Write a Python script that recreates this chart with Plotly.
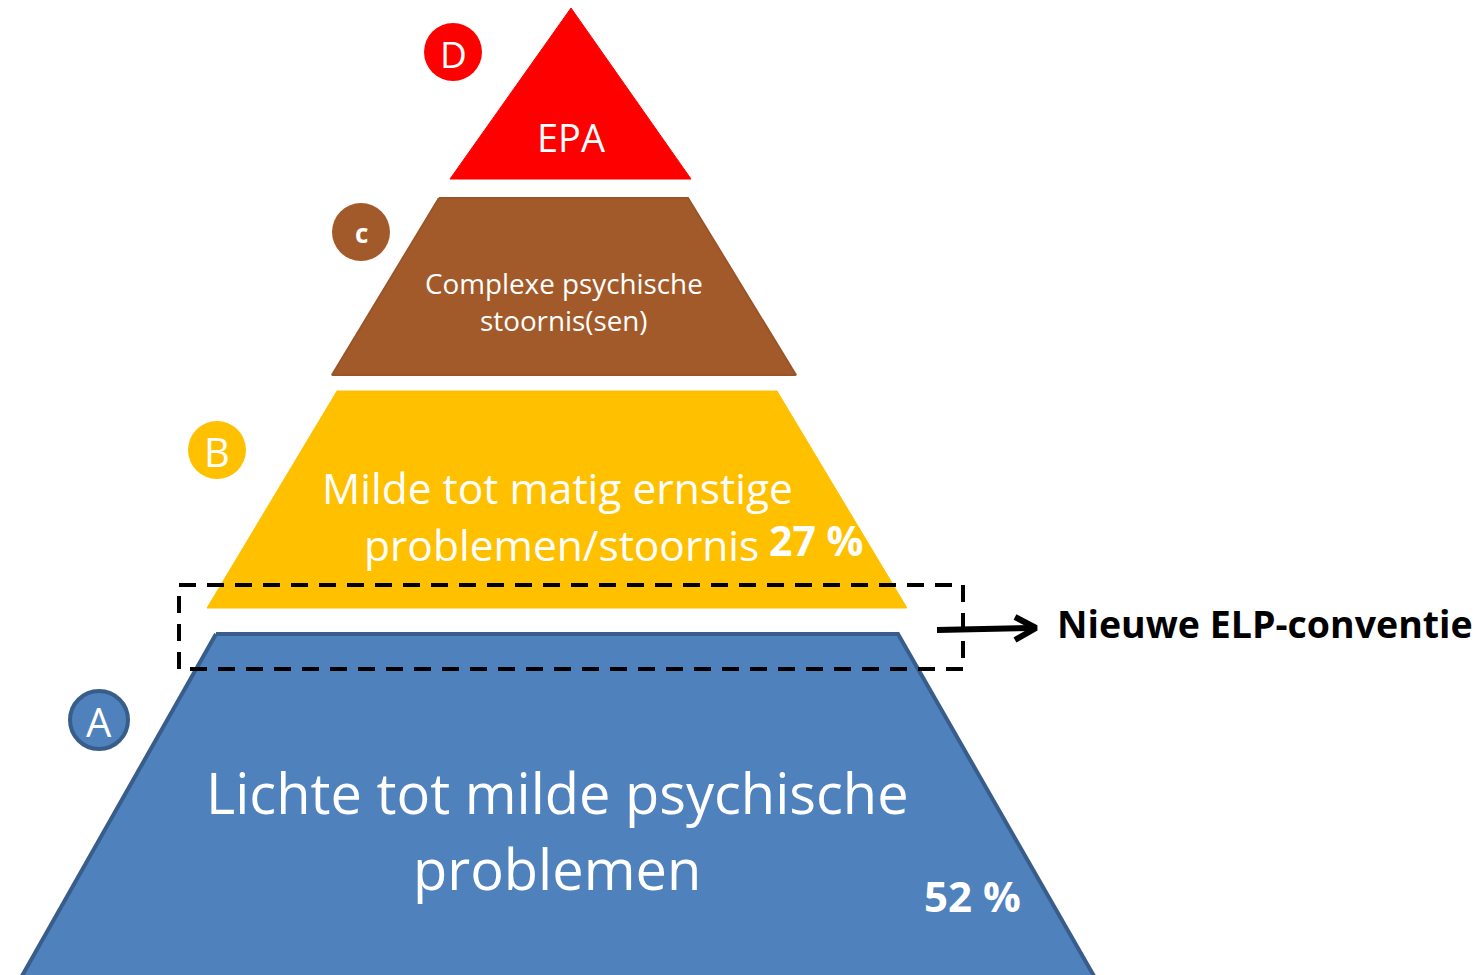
import plotly.graph_objects as go

# ---- data ----
tier_codes = ["A", "B", "c", "D"]
tier_lines = [
    ["Lichte tot milde psychische", "problemen"],
    ["Milde tot matig ernstige", "problemen/stoornis"],
    ["Complexe psychische", "stoornis(sen)"],
    ["EPA"],
]
tier_shares = ["52 %", "27 %", "", ""]
callout_text = "Nieuwe ELP-conventie"

# ---- layout geometry (pixel canvas) ----
W, H = 1483, 975
OFF = 8  # default page body margin in the browser
# trapezoid: (top_y, top_left, top_right, bottom_y, bottom_left, bottom_right)
tier_geom = [
    (634, 216, 898, 990, 14, 1102),
    (391, 337, 777, 608, 207, 907),
    (198, 439, 688, 375, 332, 796),
    (8, 571, 571, 179, 450, 691),
]
tier_fill = ["#4F81BD", "#FFC000", "#A35A2A", "#FF0000"]
tier_edge = ["#385D8A", "#FFC000", "#9A5428", "#FF0000"]
tier_edge_w = [4, 1, 2, 1]
badge_xy = [(99, 720), (217, 450), (361, 232), (453, 52)]
badge_r = 29
badge_font = [40, 40, 26, 37]
badge_bold = [False, False, True, False]
text_xy = [
    [(557, 792), (557, 868)],
    [(557, 487), (557, 544)],
    [(564, 283), (564, 320)],
    [(571, 137)],
]
text_size = [56, 42.5, 27.8, 38]
text_x_anchor = [["center", "center"], ["center", "left"], ["center", "center"], ["center"]]
text_x_override = {(1, 1): 362}
share_xy = [(972, 895), (816, 540)]
share_size = [42, 41]

FONT = "'Open Sans', 'Noto Sans', sans-serif"

fig = go.Figure()

for i, (ty, tl, tr, by, bl, br) in enumerate(tier_geom):
    fig.add_trace(go.Scatter(
        x=[tl, tr, br, bl, tl], y=[ty, ty, by, by, ty],
        mode="lines", fill="toself", fillcolor=tier_fill[i],
        line=dict(color=tier_edge[i], width=tier_edge_w[i]),
        hoverinfo="skip", showlegend=False,
    ))

# arrow (shaft + open chevron head)
fig.add_trace(go.Scatter(
    x=[937, 1033], y=[630, 628], mode="lines",
    line=dict(color="black", width=6), hoverinfo="skip", showlegend=False,
))
fig.add_trace(go.Scatter(
    x=[1015, 1036, 1015], y=[617, 628, 640], mode="lines",
    line=dict(color="black", width=6), hoverinfo="skip", showlegend=False,
))

shapes = []
annotations = []

for i, code in enumerate(tier_codes):
    cx, cy = badge_xy[i]
    shapes.append(dict(
        type="circle", xref="x", yref="y",
        x0=cx - badge_r, x1=cx + badge_r, y0=cy - badge_r, y1=cy + badge_r,
        fillcolor=tier_fill[i],
        line=dict(color=tier_edge[i], width=4 if i == 0 else 0),
    ))
    txt = f"<b>{code}</b>" if badge_bold[i] else code
    annotations.append(dict(
        x=cx, y=cy + 1, xref="x", yref="y", text=txt, showarrow=False,
        font=dict(family=FONT, size=badge_font[i], color="white"),
        xanchor="center", yanchor="middle",
    ))

for i, lines in enumerate(tier_lines):
    for j, line in enumerate(lines):
        x, y = text_xy[i][j]
        anchor = text_x_anchor[i][j]
        if (i, j) in text_x_override:
            x = text_x_override[(i, j)]
        annotations.append(dict(
            x=x, y=y, xref="x", yref="y", text=line, showarrow=False,
            font=dict(family=FONT, size=text_size[i], color="white"),
            xanchor=anchor, yanchor="middle",
        ))

for i, share in enumerate(tier_shares):
    if not share:
        continue
    x, y = share_xy[i]
    annotations.append(dict(
        x=x, y=y, xref="x", yref="y", text=f"<b>{share}</b>", showarrow=False,
        font=dict(family=FONT, size=share_size[i], color="white"),
        xanchor="center", yanchor="middle",
    ))

# dashed frame around the new convention zone
shapes.append(dict(
    type="rect", xref="x", yref="y", x0=179, x1=963, y0=585, y1=669,
    line=dict(color="black", width=4, dash="17px,11px"), fillcolor="rgba(0,0,0,0)",
))

annotations.append(dict(
    x=1055, y=623, xref="x", yref="y", text=f"<b>{callout_text}</b>",
    showarrow=False, font=dict(family=FONT, size=37.5, color="black"),
    xanchor="left", yanchor="middle",
))

fig.update_layout(
    width=W, height=H,
    margin=dict(l=0, r=0, t=0, b=0),
    paper_bgcolor="white", plot_bgcolor="white",
    xaxis=dict(range=[OFF, W + OFF], visible=False, fixedrange=True),
    yaxis=dict(range=[H + OFF, OFF], visible=False, fixedrange=True),
    shapes=shapes, annotations=annotations,
    showlegend=False,
)

fig.write_html("out.html")
